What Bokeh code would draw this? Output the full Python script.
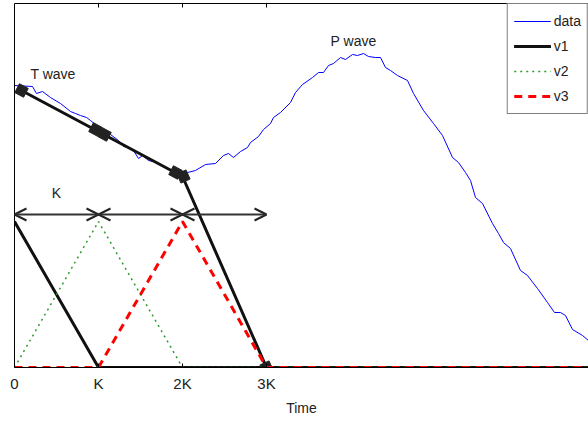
from bokeh.plotting import figure
from bokeh.models import (Range1d, FixedTicker, LinearAxis, Arrow, OpenHead,
                          Legend, LegendItem, Label, ColumnDataSource)
from bokeh.embed import file_html
from bokeh.resources import INLINE
import math

FONT = "Liberation Sans"
TXT = "#222222"

# ---- data (time in samples, amplitude in arbitrary units) ----
K = 84
N = 574
tick_vals = [0, K, 2 * K, 3 * K]
tick_labels = ["0", "K", "2K", "3K"]

data_t = [0, 18, 22, 28, 36, 46, 56, 61, 66, 72, 76, 81, 86, 96, 104, 109, 114, 119,
          124, 128, 134, 143, 151, 161, 166, 173, 181, 191, 201, 209, 214, 219, 226,
          233, 236, 244, 249, 256, 259, 266, 276, 281, 288, 298, 304, 309, 314, 319,
          326, 331, 338, 343, 349, 354, 361, 366, 371, 376, 383, 393, 399, 409, 419,
          428, 438, 444, 451, 456, 461, 468, 478, 484, 489, 496, 506, 513, 523, 533,
          540, 546, 551, 558, 568, 574]
data_y = [282, 281, 274, 276, 270, 264, 256, 254, 252, 250, 247, 243, 237, 233, 227,
          221, 220, 217, 209, 212, 207, 205, 200, 196, 196, 195, 197, 203, 204, 212,
          214, 210, 216, 220, 225, 231, 238, 244, 250, 255, 265, 275, 283, 290, 295,
          295, 302, 304, 310, 308, 313, 312, 314, 311, 310, 310, 300, 297, 292, 287,
          274, 257, 244, 232, 210, 205, 195, 187, 170, 164, 144, 134, 125, 119, 97,
          92, 79, 65, 55, 55, 52, 38, 32, 27]

# piecewise-linear fit of the T wave (v1)
fit_t = [7, 168, 252]
fit_y = [277, 191, 0]
node_t = [7, 81, 90, 161, 169, 252]
node_y = [277, 238, 233, 195, 191, 0]

peak = 146
v1_t = [0, K, N]
v1_y = [peak, 0, 0]
v2_t = [0, K, 2 * K, N]
v2_y = [0, peak, 0, 0]
v3_t = [0, K, 2 * K, 3 * K, N]
v3_y = [0, 0, peak, 0, 0]

arrow_t0 = [0, K, 2 * K]
arrow_t1 = [K, 2 * K, 3 * K]
arrow_level = 153

notes = [("T wave", 16, 294, "left"), ("K", 42, 175, "center"), ("P wave", 339, 327, "center")]

# ---- figure ----
p = figure(width=588, height=422, output_backend="svg", toolbar_location=None,
           x_range=Range1d(0, N), y_range=Range1d(0, 364),
           min_border_left=14, min_border_right=0, min_border_top=3, min_border_bottom=55,
           margin=(0, 0, 0, 0), outline_line_color=None,
           background_fill_color="white", border_fill_color="white")
p.grid.visible = False

xa = p.xaxis[0]
xa.ticker = FixedTicker(ticks=tick_vals)
xa.major_label_overrides = {v: l for v, l in zip(tick_vals, tick_labels)}
xa.major_tick_in = 4
xa.major_tick_out = 0
xa.minor_tick_in = 0
xa.minor_tick_out = 0
xa.axis_line_color = "black"
xa.major_tick_line_color = "black"
xa.major_label_text_font = FONT
xa.major_label_text_font_size = "15px"
xa.major_label_text_color = TXT
xa.major_label_standoff = 7
xa.axis_label = "Time"
xa.axis_label_text_font = FONT
xa.axis_label_text_font_size = "14px"
xa.axis_label_text_font_style = "normal"
xa.axis_label_text_color = TXT
xa.axis_label_standoff = 5

ya = p.yaxis[0]
ya.ticker = FixedTicker(ticks=[])
ya.major_tick_in = 0
ya.major_tick_out = 0
ya.minor_tick_in = 0
ya.minor_tick_out = 0
ya.axis_line_color = "black"

top = LinearAxis(ticker=FixedTicker(ticks=tick_vals[1:]), major_tick_in=4, major_tick_out=0,
                 minor_tick_in=0, minor_tick_out=0,
                 major_label_overrides={v: "" for v in tick_vals[1:]},
                 major_label_standoff=0, axis_line_color="black",
                 major_tick_line_color="black")
p.add_layout(top, "above")

r_data = p.line(data_t, data_y, line_color="#0000ff", line_width=1)
r_v1a = p.line(fit_t, fit_y, line_color="#111111", line_width=3)
ang = []
for t, y in zip(node_t, node_y):
    seg = 0 if t <= fit_t[1] else 1
    ang.append(math.atan2(fit_y[seg + 1] - fit_y[seg], fit_t[seg + 1] - fit_t[seg]))
p.scatter(node_t, node_y, marker="square", size=10, angle=ang,
          fill_color="#222222", line_color="#222222")
r_v1b = p.line(v1_t, v1_y, line_color="#111111", line_width=3)
r_v2 = p.line(v2_t, v2_y, line_color="#2e9a2e", line_width=1.5, line_dash="2 4")
r_v3 = p.line(v3_t, v3_y, line_color="#ff0000", line_width=3, line_dash="8 6")

src = ColumnDataSource(dict(x0=arrow_t0, x1=arrow_t1, y=[arrow_level] * len(arrow_t0)))
head = dict(size=12, line_width=2, line_color="#222222")
p.add_layout(Arrow(start=OpenHead(**head), end=OpenHead(**head),
                   x_start="x0", x_end="x1", y_start="y", y_end="y", source=src,
                   line_width=2, line_color="#333333"))

for txt, x, y, al in notes:
    p.add_layout(Label(x=x, y=y, text=txt, text_font=FONT, text_font_size="14px",
                       text_color=TXT, text_align=al, text_baseline="alphabetic"))

legend = Legend(items=[LegendItem(label="data", renderers=[r_data]),
                       LegendItem(label="v1", renderers=[r_v1a, r_v1b]),
                       LegendItem(label="v2", renderers=[r_v2]),
                       LegendItem(label="v3", renderers=[r_v3])],
                location="top_right", margin=0, padding=6, spacing=3,
                glyph_width=37, glyph_height=22, label_standoff=3,
                label_text_font=FONT, label_text_font_size="14px",
                label_text_color=TXT, border_line_color="black", border_line_width=1,
                background_fill_alpha=1)
p.add_layout(legend)

open("out.html", "w").write(file_html(p, INLINE))
